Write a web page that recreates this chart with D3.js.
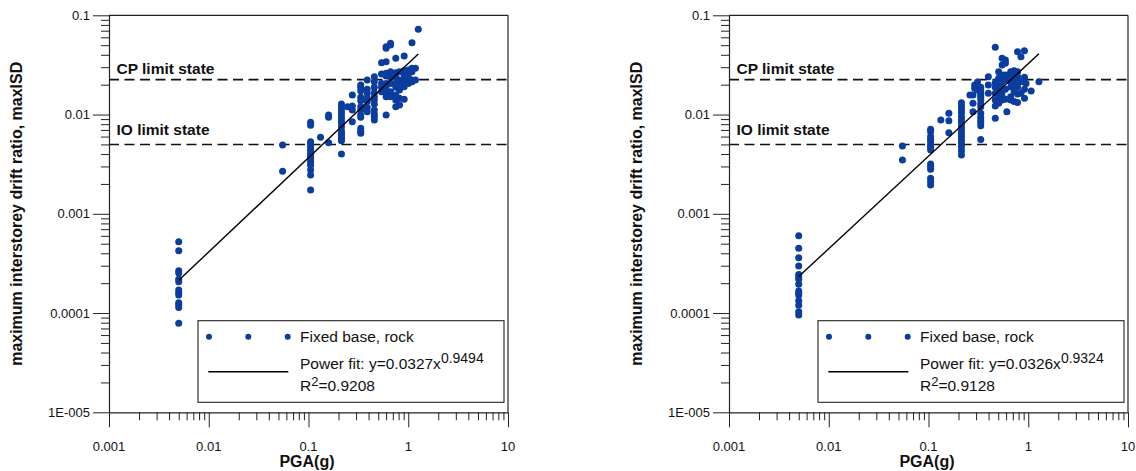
<!DOCTYPE html>
<html><head><meta charset="utf-8">
<script src="https://cdn.jsdelivr.net/npm/d3@7"></script>
<style>
body{margin:0;background:#fff}
svg{display:block}
text{font-family:"Liberation Sans",Arial,Helvetica,sans-serif;fill:#111}
</style>
</head><body>
<svg id="chart" width="1136" height="471"></svg>
<script>
// ---------- data ----------
const xTickValues = [0.001, 0.01, 0.1, 1, 10];
const xTickLabels = ["0.001", "0.01", "0.1", "1", "10"];
const yTickValues = [0.1, 0.01, 0.001, 0.0001, 0.00001];
const yTickLabels = ["0.1", "0.01", "0.001", "0.0001", "1E-005"];
const limitValues = [0.0225, 0.005];
const limitLabels = ["CP limit state", "IO limit state"];
const xTitle = "PGA(g)";
const yTitle = "maximum interstorey drift ratio, maxISD";
const seriesName = "Fixed base, rock";

// left panel: PGA levels and the maxISD values recorded at each level
const leftPGA = [0.005, 0.055, 0.105, 0.132, 0.159, 0.214, 0.246, 0.275, 0.334, 0.388, 0.457, 0.54, 0.60, 0.664, 0.75, 0.817, 0.91, 1.0, 1.09, 1.18, 1.26];
const leftISD = [
  [0.000524, 0.000425, 0.000267, 0.000253, 0.000219, 0.000207, 0.000171, 0.000160, 0.000152, 0.000127, 0.000121, 0.000114, 0.0000788],
  [0.00493, 0.00268],
  [0.00836, 0.0078, 0.00532, 0.00505, 0.00474, 0.00447, 0.0042, 0.00394, 0.00371, 0.00348, 0.00327, 0.00308, 0.00276, 0.00246, 0.00174],
  [0.0059],
  [0.0099, 0.0094, 0.0052],
  [0.01276, 0.0120, 0.0111, 0.0103, 0.0095, 0.0088, 0.0082, 0.00755, 0.00683, 0.00647, 0.00612, 0.00577, 0.00546, 0.00401],
  [0.012],
  [0.0157, 0.0122, 0.0111, 0.00847],
  [0.0199, 0.0188, 0.0174, 0.0149, 0.0138, 0.0120, 0.0111, 0.0099, 0.0094, 0.00727, 0.00683, 0.00647],
  [0.0223, 0.018, 0.0164, 0.0146, 0.0135, 0.0118, 0.0107],
  [0.0240, 0.0214, 0.0188, 0.0166, 0.0151, 0.0140, 0.0128, 0.0111, 0.0101, 0.0095, 0.0088],
  [0.0333, 0.0256, 0.0206, 0.0188, 0.0170],
  [0.0483, 0.0465, 0.0341, 0.0261, 0.0245, 0.0206, 0.0191, 0.0164, 0.0151, 0.0099],
  [0.0522, 0.0502, 0.0270, 0.0237, 0.0206, 0.0170, 0.0151],
  [0.0369, 0.0264, 0.0237, 0.0206, 0.0188, 0.0157, 0.0140, 0.0120],
  [0.0270, 0.0223, 0.0199, 0.0177, 0.0146, 0.0125],
  [0.0389, 0.0277, 0.0250, 0.0223, 0.0206, 0.0191, 0.0143],
  [0.0281, 0.0261, 0.0237, 0.0214, 0.0206],
  [0.053, 0.0292, 0.0270, 0.0223, 0.0214],
  [0.0292, 0.0223],
  [0.0723]
];

// right panel
const rightPGA = [0.005, 0.0548, 0.105, 0.133, 0.16, 0.214, 0.26, 0.279, 0.29, 0.31, 0.334, 0.398, 0.467, 0.505, 0.547, 0.59, 0.61, 0.667, 0.721, 0.781, 0.845, 0.916, 0.95, 1.07, 1.28];
const rightISD = [
  [0.0006, 0.000449, 0.000361, 0.000298, 0.000245, 0.000232, 0.000219, 0.000195, 0.000167, 0.000158, 0.000152, 0.000133, 0.000120, 0.000103, 0.0000955],
  [0.00482, 0.00348],
  [0.0071, 0.0067, 0.0060, 0.00564, 0.00532, 0.00493, 0.00468, 0.0044, 0.00318, 0.00299, 0.00281, 0.00228, 0.00211, 0.00195],
  [0.0088],
  [0.0103, 0.00867, 0.00656],
  [0.01315, 0.0122, 0.0113, 0.01045, 0.0095, 0.0088, 0.0082, 0.00755, 0.00699, 0.00647, 0.00598, 0.00555, 0.00513, 0.00474, 0.00432, 0.00391],
  [0.0157],
  [0.0157, 0.0130, 0.0107],
  [0.0199, 0.0184],
  [0.0213, 0.0177],
  [0.0188, 0.0177, 0.0166, 0.0157, 0.0149, 0.0140, 0.0128, 0.0120, 0.0103, 0.0094, 0.0087, 0.0082, 0.0077, 0.0056],
  [0.0241, 0.0199, 0.0164],
  [0.0476, 0.0209, 0.0188, 0.0164, 0.0140, 0.0122, 0.0092],
  [0.0270, 0.0232, 0.0206, 0.0184, 0.0164, 0.0146, 0.0130],
  [0.0369, 0.0316, 0.0250, 0.0214, 0.0191, 0.0170, 0.0151, 0.0140],
  [0.0355, 0.0328, 0.0250, 0.0223, 0.0180, 0.0143],
  [0.0107],
  [0.0270, 0.0241, 0.0214, 0.0191, 0.0151, 0.0140],
  [0.0277, 0.0250, 0.0223, 0.0199, 0.0170, 0.0135],
  [0.043, 0.0270, 0.0240, 0.0206, 0.0188, 0.0161, 0.0132],
  [0.0382, 0.0214, 0.0164],
  [0.044, 0.0237, 0.018, 0.0146],
  [0.0206],
  [0.0173],
  [0.0214]
];

// power fits y = a * x^b shown in the legends
const fitA = [0.0327, 0.0326];
const fitAText = ["0.0327", "0.0326"];
const fitB = [0.9494, 0.9324];
const fitBText = ["0.9494", "0.9324"];
const fitR2Text = ["0.9208", "0.9128"];

// ---------- drawing ----------
const svg = d3.select("#chart");
const DOT = "#0a3d9e";
const AXIS = "#222";
const plotW = 399, plotTop = 15.3, plotBottom = 412.3;
const panelLeft = [109, 729];

function drawPanel(i, pgaLevels, isdLists) {
  const x0 = panelLeft[i];
  const x = d3.scaleLog().domain([0.001, 10]).range([x0, x0 + plotW]);
  const y = d3.scaleLog().domain([0.00001, 0.1]).range([plotBottom, plotTop]);
  const g = svg.append("g");

  const pts = [];
  pgaLevels.forEach((p, k) => isdLists[k].forEach(v => pts.push([p, v])));

  // limit-state dashed lines
  limitValues.forEach((v, k) => {
    g.append("line")
      .attr("x1", x(0.001)).attr("x2", x(10))
      .attr("y1", y(v)).attr("y2", y(v))
      .attr("stroke", "#111").attr("stroke-width", 1.6)
      .attr("stroke-dasharray", "10,5.5");
  });
  g.append("text").attr("x", x0 + 7.5).attr("y", y(limitValues[0]) - 6)
    .attr("font-size", 15.5).attr("font-weight", "bold").text(limitLabels[0]);
  g.append("text").attr("x", x0 + 7.5).attr("y", y(limitValues[1]) - 9)
    .attr("font-size", 15.5).attr("font-weight", "bold").text(limitLabels[1]);

  // points
  g.append("g").selectAll("circle").data(pts).join("circle")
    .attr("cx", d => x(d[0])).attr("cy", d => y(d[1]))
    .attr("r", 3.5).attr("fill", DOT);

  // power-fit line
  const ext = d3.extent(pts, d => d[0]);
  const fitPts = ext.map(p => [p, fitA[i] * Math.pow(p, fitB[i])]);
  g.append("path")
    .attr("d", d3.line().x(d => x(d[0])).y(d => y(d[1]))(fitPts))
    .attr("stroke", "#000").attr("stroke-width", 1.4).attr("fill", "none");

  // frame (top and right)
  g.append("line").attr("x1", x0).attr("x2", x0 + plotW).attr("y1", plotTop).attr("y2", plotTop)
    .attr("stroke", AXIS).attr("stroke-width", 1.2);
  g.append("line").attr("x1", x0 + plotW).attr("x2", x0 + plotW).attr("y1", plotTop).attr("y2", plotBottom)
    .attr("stroke", AXIS).attr("stroke-width", 1.2);

  // y axis
  const yAxis = d3.axisLeft(y).tickValues(y.ticks()).tickFormat("")
    .tickSizeOuter(0)
    .tickSizeInner(0);
  const ya = g.append("g").attr("transform", `translate(${x0},0)`).call(yAxis);
  ya.select(".domain").attr("stroke", AXIS).attr("stroke-width", 1.2);
  ya.selectAll(".tick line")
    .attr("x2", d => yTickValues.some(t => Math.abs(t - d) / t < 1e-6) ? -16 : -8)
    .attr("stroke", AXIS).attr("stroke-width", 1);
  yTickValues.forEach((t, k) => {
    g.append("text").attr("x", x0 - 19).attr("y", y(t)).attr("dy", "0.36em")
      .attr("text-anchor", "end").attr("font-size", 13).text(yTickLabels[k]);
  });

  // x axis
  const xAxis = d3.axisBottom(x).tickValues(x.ticks()).tickFormat("")
    .tickSizeOuter(0).tickSizeInner(0);
  const xa = g.append("g").attr("transform", `translate(0,${plotBottom})`).call(xAxis);
  xa.select(".domain").attr("stroke", AXIS).attr("stroke-width", 1.2);
  xa.selectAll(".tick line")
    .attr("y2", d => xTickValues.some(t => Math.abs(t - d) / t < 1e-6) ? 15 : 8)
    .attr("stroke", AXIS).attr("stroke-width", 1);
  xTickValues.forEach((t, k) => {
    g.append("text").attr("x", x(t)).attr("y", 450.5)
      .attr("text-anchor", "middle").attr("font-size", 13).text(xTickLabels[k]);
  });

  // axis titles
  g.append("text").attr("x", x0 + 198).attr("y", 467)
    .attr("text-anchor", "middle").attr("font-size", 16).attr("font-weight", "bold").text(xTitle);
  g.append("text")
    .attr("transform", `translate(${x0 - 87},${(plotTop + plotBottom) / 2}) rotate(-90)`)
    .attr("text-anchor", "middle").attr("font-size", 16).attr("font-weight", "bold").text(yTitle);

  // legend
  const lx = x0 + 89;
  g.append("rect").attr("x", lx).attr("y", 320.7).attr("width", 306).attr("height", 81.6)
    .attr("fill", "#fff").attr("stroke", "#222").attr("stroke-width", 1.1);
  [100, 139.3, 178.7].forEach(o => {
    g.append("circle").attr("cx", x0 + o).attr("cy", 336.7).attr("r", 3).attr("fill", DOT);
  });
  g.append("line").attr("x1", x0 + 99.3).attr("x2", x0 + 179.3).attr("y1", 371.7).attr("y2", 371.7)
    .attr("stroke", "#000").attr("stroke-width", 1.5);
  const tx = x0 + 191;
  g.append("text").attr("x", tx).attr("y", 342).attr("font-size", 15.5).text(seriesName);
  const t2 = g.append("text").attr("x", tx).attr("y", 368.5).attr("font-size", 15.5);
  t2.append("tspan").text("Power fit: y=" + fitAText[i] + "x");
  t2.append("tspan").attr("dy", -6).attr("font-size", 14).text(fitBText[i]);
  const t3 = g.append("text").attr("x", tx).attr("y", 390.5).attr("font-size", 15.5);
  t3.append("tspan").text("R");
  t3.append("tspan").attr("dy", -5).attr("font-size", 13).text("2");
  t3.append("tspan").attr("dy", 5).text("=" + fitR2Text[i]);
}

drawPanel(0, leftPGA, leftISD);
drawPanel(1, rightPGA, rightISD);
</script>
</body></html>
